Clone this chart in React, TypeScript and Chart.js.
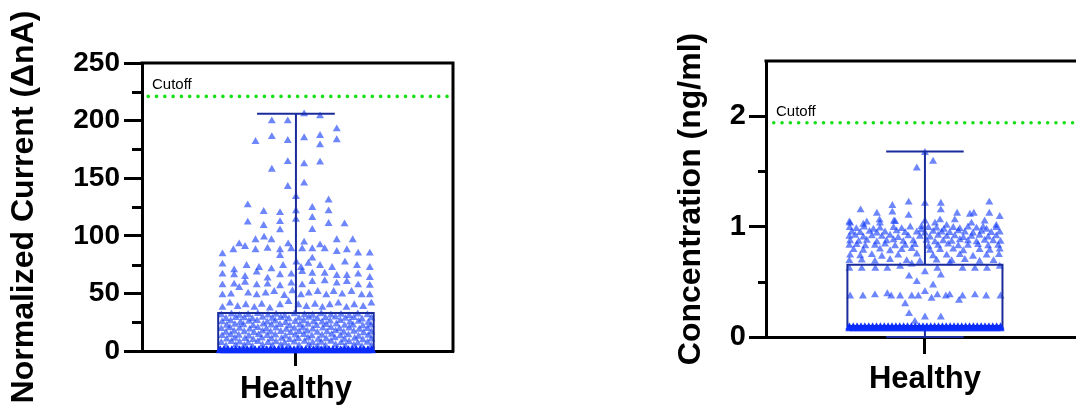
import { useEffect, useRef } from "react";
import { Chart, registerables } from "chart.js";

Chart.register(...registerables);

const FONT = "'Liberation Sans', Arial, Helvetica, sans-serif";
const category = "Healthy";
const cutoffLabel = "Cutoff";

// ---------- Left panel: Normalized Current ----------
const currentTitle = "Normalized Current (ΔnA)";
const currentTicks = [0, 50, 100, 150, 200, 250];
const currentMinorTicks = [25, 75, 125, 175, 225];
// [min, q1, median, q3, max]
const currentStats = [0, 0, 1.5, 33, 206];
const currentCutoff = 221;

const currentUpperPoints: [number, number][] = [
  [0.21, 205.7], [0.62, 204.0], [-0.62, 199.6], [-0.21, 199.6], [1.05, 192.7], [-1.04, 181.7],
  [-0.62, 186.0], [-0.21, 182.6], [0.21, 185.0], [0.62, 186.9], [0.62, 178.8], [1.05, 183.2],
  [-0.21, 164.3], [0.21, 162.3], [0.62, 163.8], [-0.62, 157.7], [-0.21, 142.6], [0.21, 145.6],
  [0.0, 133.9], [-1.24, 126.7], [0.84, 131.0], [-0.83, 121.0], [-0.41, 120.0], [0.0, 121.5],
  [0.42, 124.4], [0.84, 121.5], [-1.24, 111.7], [-0.83, 108.8], [-0.41, 112.2], [0.0, 114.3],
  [0.42, 115.7], [0.84, 110.5], [1.25, 110.2], [-0.41, 105.0], [0.42, 105.3],
];

const currentMidPoints: [number, number][] = [
  [-1.04, 96.4], [-0.82, 98.7], [-0.63, 96.4], [0.21, 94.4], [1.05, 96.4], [1.46, 96.4],
  [-1.46, 92.9], [-1.31, 90.6], [-1.61, 87.7], [-1.04, 87.7], [-0.73, 89.1], [-0.41, 87.7],
  [-0.2, 92.9], [-0.12, 88.6], [0.16, 88.6], [0.42, 88.6], [0.62, 92.0], [0.74, 88.6],
  [1.05, 86.3], [1.31, 87.7], [1.6, 84.8], [1.9, 84.8], [-1.89, 84.2], [-0.41, 82.8],
  [0.42, 80.5], [0.32, 76.1], [-1.89, 75.3], [-1.27, 74.1], [-0.95, 72.4], [-0.63, 71.2],
  [-0.33, 74.1], [0.01, 77.0], [0.13, 72.4], [0.62, 74.1], [0.93, 72.4], [1.26, 77.0],
  [1.57, 74.1], [1.9, 72.4], [-1.59, 70.3],
  [-1.89, 66.6], [-1.59, 66.0], [-1.31, 64.6], [-1.01, 68.3], [-0.73, 63.1], [-0.41, 66.0],
  [-0.12, 66.6], [0.16, 68.9], [0.42, 67.4], [0.74, 67.4], [1.05, 65.4], [1.31, 65.4],
  [1.6, 66.6], [1.9, 63.7],
  [-1.89, 57.3], [-1.59, 57.9], [-1.31, 59.6], [-1.01, 57.3], [-0.73, 57.9], [-0.41, 56.5],
  [-0.12, 58.8], [0.16, 57.3], [0.42, 60.2], [0.74, 60.8], [1.05, 58.8], [1.31, 60.2],
  [1.6, 57.3], [1.9, 56.8],
  [-1.89, 48.6], [-1.67, 49.2], [-1.46, 55.0], [-1.23, 50.1], [-1.01, 48.6], [-0.78, 50.1],
  [-0.56, 51.5], [-0.3, 48.1], [-0.09, 52.1], [0.13, 48.6], [0.33, 50.1], [0.56, 51.5],
  [0.78, 48.6], [0.97, 51.5], [1.19, 49.2], [1.43, 51.5], [1.69, 48.6], [1.9, 48.6],
  [-1.89, 37.7], [-1.7, 41.4], [-1.5, 38.5], [-1.29, 40.0], [-1.07, 37.7], [-0.88, 40.5],
  [-0.67, 37.1], [-0.41, 40.0], [-0.19, 42.9], [0.06, 40.0], [0.27, 38.5], [0.49, 40.5],
  [0.68, 37.7], [0.87, 40.0], [1.09, 41.4], [1.3, 37.7], [1.5, 40.0], [1.73, 38.5], [1.94, 41.4],
];

const currentBoxPoints: [number, number][] = [
  [-1.92, 31.2], [-1.66, 32.0], [-1.45, 30.8], [-1.23, 31.6], [-0.98, 32.3], [-0.72, 31.0], [-0.51, 31.8], [-0.29, 30.5], [-0.04, 32.1], [0.22, 31.4], [0.43, 30.9], [0.65, 32.2], [0.9, 31.1], [1.16, 31.7], [1.37, 30.6], [1.59, 32.0], [1.84, 31.3],
  [-1.8, 28.1], [-1.55, 29.0], [-1.33, 28.6], [-1.12, 27.8], [-0.86, 29.2], [-0.61, 28.3], [-0.39, 28.9], [-0.18, 27.9], [0.08, 28.4], [0.33, 29.1], [0.55, 28.0], [0.76, 28.7], [1.02, 29.3], [1.27, 28.2], [1.49, 28.8], [1.7, 27.7], [1.94, 28.5],
  [-1.9, 25.3], [-1.68, 26.0], [-1.43, 24.8], [-1.21, 25.7], [-1.0, 26.2], [-0.74, 25.0], [-0.53, 25.9], [-0.27, 24.6], [-0.02, 25.5], [0.2, 26.1], [0.45, 25.2], [0.67, 24.9], [0.88, 25.8], [1.14, 26.3], [1.39, 25.1], [1.61, 25.6], [1.86, 24.7],
  [-1.78, 22.2], [-1.57, 23.0], [-1.35, 22.7], [-1.1, 21.9], [-0.84, 23.2], [-0.63, 22.4], [-0.41, 22.9], [-0.16, 21.8], [0.1, 22.6], [0.31, 23.1], [0.53, 22.0], [0.78, 22.8], [1.04, 23.3], [1.25, 22.1], [1.47, 22.5], [1.72, 21.7], [1.93, 22.3],
  [-1.92, 19.3], [-1.7, 20.0], [-1.45, 19.6], [-1.19, 18.9], [-0.98, 20.2], [-0.76, 19.1], [-0.51, 19.8], [-0.25, 18.8], [-0.04, 19.5], [0.18, 20.1], [0.43, 19.0], [0.69, 19.7], [0.9, 20.3], [1.12, 19.2], [1.37, 19.9], [1.63, 18.7], [1.84, 19.4],
  [-1.8, 16.2], [-1.59, 17.0], [-1.33, 16.6], [-1.08, 15.9], [-0.86, 17.1], [-0.65, 16.4], [-0.39, 16.8], [-0.14, 15.8], [0.08, 16.7], [0.29, 17.2], [0.55, 16.0], [0.8, 16.5], [1.02, 17.3], [1.23, 16.1], [1.49, 16.9], [1.74, 15.7], [1.94, 16.3],
  [-1.9, 13.2], [-1.68, 14.0], [-1.47, 13.6], [-1.21, 12.9], [-0.96, 14.1], [-0.74, 13.3], [-0.53, 13.8], [-0.27, 12.8], [-0.02, 13.7], [0.2, 14.2], [0.41, 13.0], [0.67, 13.5], [0.92, 14.3], [1.14, 13.1], [1.35, 13.9], [1.61, 12.7], [1.86, 13.4],
  [-1.78, 10.2], [-1.57, 11.0], [-1.31, 10.6], [-1.1, 9.9], [-0.88, 11.1], [-0.63, 10.4], [-0.37, 10.8], [-0.16, 9.8], [0.06, 10.7], [0.31, 11.2], [0.57, 10.0], [0.78, 10.5], [1.0, 11.3], [1.25, 10.1], [1.51, 10.9], [1.72, 9.7], [1.94, 10.3],
  [-1.92, 7.2], [-1.66, 8.0], [-1.45, 7.6], [-1.23, 6.9], [-0.98, 8.1], [-0.72, 7.3], [-0.51, 7.8], [-0.29, 6.8], [-0.04, 7.7], [0.22, 8.2], [0.43, 7.0], [0.65, 7.5], [0.9, 8.3], [1.16, 7.1], [1.37, 7.9], [1.59, 6.7], [1.84, 7.4],
  [-1.8, 4.2], [-1.55, 5.0], [-1.33, 4.6], [-1.12, 3.9], [-0.86, 5.1], [-0.61, 4.4], [-0.39, 4.8], [-0.18, 3.8], [0.08, 4.7], [0.33, 5.2], [0.55, 4.0], [0.76, 4.5], [1.02, 5.3], [1.27, 4.1], [1.49, 4.9], [1.7, 3.7], [1.94, 4.3],
];

// Densely packed points sitting on the floor of each box (x jitter positions and their levels)
const floorXs = [
  -1.95, -1.85, -1.75, -1.65, -1.55, -1.45, -1.35, -1.25, -1.15, -1.05,
  -0.95, -0.85, -0.75, -0.65, -0.55, -0.45, -0.35, -0.25, -0.15, -0.05,
  0.05, 0.15, 0.25, 0.35, 0.45, 0.55, 0.65, 0.75, 0.85, 0.95,
  1.05, 1.15, 1.25, 1.35, 1.45, 1.55, 1.65, 1.75, 1.85, 1.95,
];
const currentFloorLevels = [0, 0.5, 1.0];

// ---------- Right panel: Concentration ----------
const concTitle = "Concentration (ng/ml)";
const concTicks = [0, 1, 2];
const concMinorTicks = [0.5, 1.5];
const concStats = [0, 0.09, 0.1, 0.655, 1.68];
const concCutoff = 1.94;

const concUpperPoints: [number, number][] = [
  [0, 1.67], [0.21, 1.59], [-0.21, 1.53], [-0.84, 1.19], [-0.42, 1.22], [0, 1.21], [0.41, 1.21],
  [1.66, 1.22], [-1.66, 1.15], [-0.84, 1.13], [-1.24, 1.12], [-0.42, 1.1], [0.41, 1.15], [0.83, 1.12],
  [1.16, 1.11], [1.26, 1.12], [1.66, 1.12], [1.93, 1.09], [-1.95, 1.04], [-1.5, 1.04], [-1.17, 1.06],
  [-0.8, 1.05], [0, 1.05], [0.39, 1.06], [0.77, 1.06], [1.54, 1.05],
  [-1.93, 1.03], [-1.59, 1.02], [-1.16, 1.03], [-0.77, 1.045], [-0.09, 1.0], [0.26, 1.03],
  [0.56, 1.01], [1.2, 1.03], [1.5, 0.995], [1.84, 1.01],
];

const concBandPoints: [number, number][] = [
  [-1.94, 0.99], [-1.77, 0.98], [-1.57, 0.995], [-1.33, 0.975], [-1.16, 0.985], [-0.81, 0.99], [-0.6, 0.98], [-0.38, 0.995], [-0.09, 0.97], [0.09, 0.99], [0.3, 0.985], [0.49, 0.975], [0.73, 0.99], [0.9, 0.98], [1.11, 0.995], [1.33, 0.985], [1.59, 0.975], [1.84, 0.99],
  [-1.89, 0.95], [-1.67, 0.945], [-1.43, 0.955], [-1.24, 0.94], [-1.03, 0.95], [-0.73, 0.96], [-0.51, 0.945], [-0.21, 0.95], [0, 0.94], [0.21, 0.955], [0.43, 0.95], [0.64, 0.945], [0.86, 0.96], [1.03, 0.95], [1.24, 0.94], [1.46, 0.955], [1.71, 0.945], [1.93, 0.95],
  [-1.95, 0.91], [-1.8, 0.92], [-1.59, 0.905], [-1.37, 0.915], [-1.11, 0.91], [-0.9, 0.92], [-0.69, 0.9], [-0.43, 0.915], [-0.13, 0.91], [0.13, 0.905], [0.34, 0.92], [0.56, 0.91], [0.77, 0.915], [0.99, 0.9], [1.2, 0.91], [1.41, 0.92], [1.63, 0.905], [1.84, 0.915],
  [-1.93, 0.87], [-1.71, 0.865], [-1.5, 0.875], [-1.24, 0.86], [-0.99, 0.87], [-0.81, 0.88], [-0.56, 0.865], [-0.3, 0.87], [0.04, 0.875], [0.26, 0.86], [0.47, 0.87], [0.69, 0.865], [0.9, 0.88], [1.11, 0.87], [1.33, 0.86], [1.54, 0.875], [1.76, 0.87], [1.95, 0.865],
  [-1.95, 0.83], [-1.76, 0.835], [-1.54, 0.825], [-1.29, 0.83], [-1.03, 0.84], [-0.77, 0.825], [-0.51, 0.83], [-0.26, 0.835], [0.09, 0.82], [0.34, 0.83], [0.6, 0.84], [0.86, 0.825], [1.11, 0.83], [1.37, 0.835], [1.63, 0.825], [1.89, 0.83],
  [-1.84, 0.79], [-1.59, 0.785], [-1.16, 0.795], [-0.9, 0.78], [-0.6, 0.79], [-0.34, 0.8], [0.13, 0.785], [0.39, 0.79], [0.73, 0.795], [0.99, 0.78], [1.41, 0.79], [1.67, 0.785], [1.93, 0.795],
  [-1.93, 0.74], [-1.67, 0.735], [-1.37, 0.745], [-1.11, 0.73], [-0.69, 0.74], [-0.21, 0.75], [0.21, 0.735], [0.56, 0.74], [0.9, 0.745], [1.24, 0.73], [1.59, 0.74], [1.91, 0.745],
  [-1.95, 0.69], [-1.63, 0.695], [-1.29, 0.685], [-0.9, 0.7], [-0.47, 0.69], [-0.13, 0.685], [0.3, 0.695], [0.69, 0.69], [1.03, 0.7], [1.41, 0.685], [1.77, 0.69],
];

const concLowerPoints: [number, number][] = [
  [-1.95, 0.62], [-1.63, 0.62], [-1.28, 0.62], [-0.97, 0.62], [-0.64, 0.64], [-0.34, 0.66], [0, 0.59],
  [0.32, 0.62], [0.41, 0.56], [0.64, 0.67], [0.97, 0.62], [1.29, 0.62], [1.6, 0.62], [1.93, 0.64],
  [-0.41, 0.55], [-0.21, 0.5], [0.21, 0.47], [0, 0.41], [-1.93, 0.37], [-1.6, 0.37], [-1.29, 0.38],
  [-0.97, 0.39], [-0.87, 0.37], [-0.64, 0.37], [-0.34, 0.37], [-0.17, 0.37], [0.17, 0.35], [0.32, 0.38],
  [0.54, 0.37], [0.64, 0.38], [0.88, 0.33], [0.97, 0.37], [1.29, 0.38], [1.58, 0.37], [1.95, 0.37],
  [-0.51, 0.3], [-0.41, 0.21], [0, 0.18], [0.41, 0.18], [-0.26, 0.14],
];

const concFloorLevels = [0.092, 0.082, 0.072];

// ---------- Styling ----------
const POINT_COLOR = "rgba(20, 60, 250, 0.62)";
const FLOOR_COLOR = "rgba(10, 45, 255, 0.85)";
const BOX_COLOR = "#1a2b9c";
const CUTOFF_COLOR = "#14e014";
const BOX_HALF = 2;
const CAP_HALF = 1;

type PanelParams = {
  points: [number, number][];
  floor: [number, number][];
  stats: number[];
  cutoff: number;
  ticks: number[];
  minorTicks: number[];
  yMax: number;
  xMin: number;
  xMax: number;
  cutoffStartX: number;
  yTitle: string;
  tickFontSize: number;
  padTop: number;
  padRight: number;
  axisWidth: number;
  axisHeight: number;
  titlePadTop: number;
  yTickLen: number;
  yTickPad: number;
  xTickLen: number;
  xTickPad: number;
  minorLen: number;
};

function floorPoints(levels: number[]): [number, number][] {
  const out: [number, number][] = [];
  for (const y of levels) for (const x of floorXs) out.push([x, y]);
  return out;
}

function lineDs(data: { x: number; y: number }[], color: string, width: number, order: number, extra: any = {}) {
  return {
    type: "scatter" as const,
    data,
    showLine: true,
    borderColor: color,
    borderWidth: width,
    pointRadius: 0,
    pointHoverRadius: 0,
    fill: false,
    tension: 0,
    order,
    clip: false as any,
    ...extra,
  };
}

function pointDs(pts: [number, number][], color: string, order: number) {
  return {
    type: "scatter",
    data: pts.map(([x, y]) => ({ x, y })),
    pointStyle: "triangle",
    pointRadius: 4.6,
    pointHoverRadius: 4.6,
    pointBackgroundColor: color,
    pointBorderWidth: 0,
    showLine: false,
    order,
    clip: false,
  };
}

function buildConfig(p: PanelParams): any {
  const [mn, q1, med, q3, mx] = p.stats;
  const datasets: any[] = [
    pointDs(p.floor, FLOOR_COLOR, -1),
    lineDs([{ x: -BOX_HALF, y: q1 }, { x: -BOX_HALF, y: q3 }, { x: BOX_HALF, y: q3 }, { x: BOX_HALF, y: q1 }, { x: -BOX_HALF, y: q1 }], BOX_COLOR, 2, 0),
    lineDs([{ x: -BOX_HALF, y: med }, { x: BOX_HALF, y: med }], BOX_COLOR, 2, 0),
    lineDs([{ x: 0, y: q3 }, { x: 0, y: mx }], BOX_COLOR, 2, 0),
    lineDs([{ x: -CAP_HALF, y: mx }, { x: CAP_HALF, y: mx }], BOX_COLOR, 2, 0),
    lineDs([{ x: 0, y: mn }, { x: 0, y: q1 }], BOX_COLOR, 2, 0),
    lineDs([{ x: -CAP_HALF, y: mn }, { x: CAP_HALF, y: mn }], BOX_COLOR, 2, 0),
    pointDs(p.points, POINT_COLOR, 1),
    lineDs([{ x: p.cutoffStartX, y: p.cutoff }, { x: p.xMax, y: p.cutoff }], CUTOFF_COLOR, 3.6, 2, {
      borderDash: [0, 8.3],
      borderCapStyle: "round",
    }),
  ];

  const framePlugin = {
    id: "frameAndMinor",
    afterDraw(chart: any) {
      const { ctx, chartArea: a, scales } = chart;
      ctx.save();
      ctx.strokeStyle = "#000";
      ctx.lineWidth = 3;
      ctx.beginPath();
      ctx.moveTo(a.left - 1.5, a.top);
      ctx.lineTo(a.right, a.top);
      ctx.lineTo(a.right, a.bottom + 1.5);
      ctx.stroke();
      for (const v of p.minorTicks) {
        const y = Math.round(scales.y.getPixelForValue(v)) + 0.5;
        ctx.beginPath();
        ctx.moveTo(a.left - p.minorLen, y);
        ctx.lineTo(a.left, y);
        ctx.stroke();
      }
      ctx.fillStyle = "#000";
      ctx.font = `15px ${FONT}`;
      ctx.textAlign = "left";
      ctx.textBaseline = "alphabetic";
      ctx.fillText(cutoffLabel, a.left + 10, scales.y.getPixelForValue(p.cutoff) - 7);
      ctx.restore();
    },
  };

  return {
    type: "scatter",
    data: { datasets },
    plugins: [framePlugin],
    options: {
      responsive: false,
      animation: false,
      devicePixelRatio: 1,
      events: [],
      layout: { padding: { left: 0, top: p.padTop, right: p.padRight, bottom: 0 } },
      plugins: { legend: { display: false }, tooltip: { enabled: false } },
      scales: {
        x: {
          type: "linear",
          min: p.xMin,
          max: p.xMax,
          afterBuildTicks: (s: any) => {
            s.ticks = [{ value: 0 }];
          },
          afterFit: (s: any) => {
            s.height = p.axisHeight;
          },
          ticks: {
            callback: () => category,
            color: "#000",
            font: { family: FONT, size: 31, weight: "bold" },
            padding: p.xTickPad,
            maxRotation: 0,
            autoSkip: false,
          },
          grid: {
            display: true,
            drawOnChartArea: false,
            drawTicks: true,
            tickLength: p.xTickLen,
            tickWidth: 3,
            tickColor: "#000",
            color: "#000",
          },
          border: { display: true, width: 3, color: "#000" },
        },
        y: {
          type: "linear",
          min: 0,
          max: p.yMax,
          afterBuildTicks: (s: any) => {
            s.ticks = p.ticks.map((v) => ({ value: v }));
          },
          afterFit: (s: any) => {
            s.width = p.axisWidth;
          },
          ticks: {
            callback: (v: any) => String(v),
            color: "#000",
            font: { family: FONT, size: p.tickFontSize, weight: "bold" },
            padding: p.yTickPad,
            autoSkip: false,
          },
          grid: {
            display: true,
            drawOnChartArea: false,
            drawTicks: true,
            tickLength: p.yTickLen,
            tickWidth: 3,
            tickColor: "#000",
            color: "#000",
          },
          border: { display: true, width: 3, color: "#000" },
          title: {
            display: true,
            text: p.yTitle,
            color: "#000",
            font: { family: FONT, size: 32, weight: "bold" },
            padding: { top: p.titlePadTop, bottom: 0 },
          },
        },
      },
    },
  };
}

function Panel({ params, left, width }: { params: PanelParams; left: number; width: number }) {
  const ref = useRef<HTMLCanvasElement | null>(null);
  useEffect(() => {
    if (!ref.current) return;
    const chart = new Chart(ref.current, buildConfig(params));
    return () => chart.destroy();
  }, []);
  return (
    <canvas
      ref={ref}
      width={width}
      height={411}
      style={{ position: "absolute", left, top: 0, width, height: 411 }}
    />
  );
}

const leftParams: PanelParams = {
  points: [...currentUpperPoints, ...currentMidPoints, ...currentBoxPoints],
  floor: floorPoints(currentFloorLevels),
  stats: currentStats,
  cutoff: currentCutoff,
  ticks: currentTicks,
  minorTicks: currentMinorTicks,
  yMax: 250,
  xMin: -3.96,
  xMax: 4.04,
  cutoffStartX: -3.8,
  yTitle: currentTitle,
  tickFontSize: 28,
  padTop: 63,
  padRight: 17,
  axisWidth: 142,
  axisHeight: 60,
  titlePadTop: 5,
  yTickLen: 18,
  yTickPad: 4,
  xTickLen: 15,
  xTickPad: 5,
  minorLen: 10,
};

const rightParams: PanelParams = {
  points: [...concUpperPoints, ...concBandPoints, ...concLowerPoints],
  floor: floorPoints(concFloorLevels),
  stats: concStats,
  cutoff: concCutoff,
  ticks: concTicks,
  minorTicks: concMinorTicks,
  yMax: 2.5,
  xMin: -4.1,
  xMax: 4.0,
  cutoffStartX: -3.9,
  yTitle: concTitle,
  tickFontSize: 29,
  padTop: 61,
  padRight: 10,
  axisWidth: 166,
  axisHeight: 74,
  titlePadTop: 72,
  yTickLen: 17,
  yTickPad: 3,
  xTickLen: 17,
  xTickPad: 7,
  minorLen: 8,
};

export default function App() {
  return (
    <div
      style={{
        position: "fixed",
        left: 0,
        top: 0,
        width: 1076,
        height: 411,
        overflow: "hidden",
        background: "#fff",
      }}
    >
      <Panel params={leftParams} left={0} width={470} />
      <Panel params={rightParams} left={600} width={490} />
    </div>
  );
}
